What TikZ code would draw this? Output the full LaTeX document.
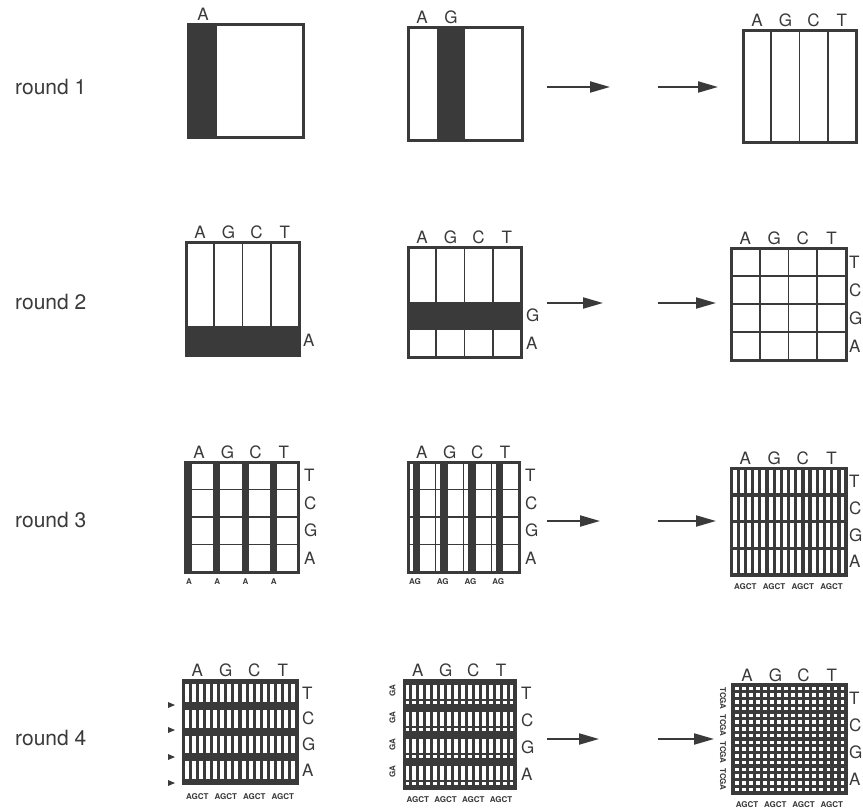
\documentclass[tikz,border=0pt]{standalone}
\usepackage{fontspec}
\setmainfont{TeX Gyre Heros}
\usetikzlibrary{arrows.meta}
\definecolor{Ink}{RGB}{58,58,58}

% letters over the lanes, beside the rows and under the lanes
\newcommand{\lanehead}[4]{% prefix, left x, width, top y
  \foreach \l [count=\i] in {A,G,C,T}
    \node[letter, anchor=base] (#1-\l) at ({#2+(\i-0.5)*#3/4},{#4-4}) {\l};}
\newcommand{\rowhead}[4]{% prefix, x, top y, height
  \foreach \l [count=\i] in {T,C,G,A}
    \node[letter, anchor=west] (#1-\l) at (#2,{#3+(\i-0.5)*#4/4}) {\l};}
\newcommand{\lanefoot}[4]{% prefix, left x, width, y
  \foreach \i in {1,...,4}
    \node[small letter] (#1-\i) at ({#2+(\i-0.5)*#3/4},#4) {AGCT};}

\begin{document}
\begin{tikzpicture}[x=1pt, y=-1pt,
    frame/.style={draw=Ink, line width=3pt},
    rule/.style={draw=Ink, line width=1.8pt},
    ink/.style={fill=Ink},
    blank/.style={fill=white},
    letter/.style={font=\fontsize{17}{17}\selectfont, text=Ink, inner sep=0pt},
    small letter/.style={font=\bfseries\fontsize{8}{8}\selectfont, text=Ink, inner sep=0pt},
    round label/.style={font=\fontsize{21}{21}\selectfont, text=Ink, anchor=west, inner sep=0pt},
    flow/.style={draw=Ink, line width=2pt, -{Triangle[length=20pt, width=11pt]}}
  ]
  \useasboundingbox[fill=white] (0,0) rectangle (863,808);

  % round labels
  \foreach \r/\y in {1/87, 2/302, 3/520, 4/738}
    \node[round label] (round\r) at (15,\y) {round \r};

  % arrows between the boxes
  \foreach \r/\y/\e/\f in {1/87/610/718, 2/303/603/716, 3/521/600/716, 4/739/599/714} {
    \coordinate (r\r-s1) at (547,\y);
    \coordinate (r\r-e1) at (\e,\y);
    \coordinate (r\r-s2) at (658,\y);
    \coordinate (r\r-e2) at (\f,\y);
    \draw[flow] (r\r-s1) -- (r\r-e1);
    \draw[flow] (r\r-s2) -- (r\r-e2);
  }

  %%% round 1
  \fill[ink] (188,25) rectangle (217,137);
  \draw[frame] (188,25) rectangle (303,137);
  \node[letter, anchor=base] (r1a-A) at (203,21) {A};

  \fill[ink] (436.5,28) rectangle (465,140);
  \draw[frame] (408,28) rectangle (522,140);
  \node[letter, anchor=base] (r1b-A) at (422,24) {A};
  \node[letter, anchor=base] (r1b-G) at (451,24) {G};

  \foreach \k in {1,2,3}
    \draw[rule] ({743+\k*28.25},31) -- ++(0,111);
  \draw[frame] (743,31) rectangle (856,142);
  \lanehead{r1c}{743}{113}{31}

  %%% round 2
  \fill[ink] (186,326) rectangle (299,355);
  \foreach \k in {1,2,3}
    \draw[rule] ({186+\k*28.25},242) -- ++(0,84);
  \draw[frame] (186,242) rectangle (299,355);
  \lanehead{r2a}{186}{113}{242}
  \node[letter, anchor=west] (r2a-rA) at (303,340.5) {A};

  \foreach \k in {1,2,3}
    \draw[rule] ({408+\k*28.25},247) -- ++(0,110);
  \fill[ink] (408,302) rectangle (521,329.5);
  \draw[rule] (408,329.5) -- (521,329.5);
  \draw[frame] (408,247) rectangle (521,357);
  \lanehead{r2b}{408}{113}{247}
  \node[letter, anchor=west] (r2b-rG) at (526,315.75) {G};
  \node[letter, anchor=west] (r2b-rA) at (526,343.25) {A};

  \foreach \k in {1,2,3} {
    \draw[rule] ({731+\k*28.75},248) -- ++(0,112);
    \draw[rule] (731,{248+\k*28}) -- ++(115,0);
  }
  \draw[frame] (731,248) rectangle (846,360);
  \lanehead{r2c}{731}{115}{248}
  \rowhead{r2c-r}{849}{248}{112}

  %%% round 3
  \foreach \k in {0,...,3}
    \fill[ink] ({185+\k*28.25},462) rectangle ++(7,110);
  \foreach \k in {1,2,3}
    \draw[rule] (185,{462+\k*27.5}) -- ++(113,0);
  \draw[frame] (185,462) rectangle (298,572);
  \lanehead{r3a}{185}{113}{462}
  \rowhead{r3a-r}{304}{462}{110}
  \foreach \k in {0,...,3}
    \node[small letter] (r3a-f\k) at ({189+\k*28.25},582) {A};

  \foreach \k in {0,...,3}
    \fill[ink] ({408+\k*27.75+4.5},462) rectangle ++(7.5,110);
  \foreach \k in {1,2,3} {
    \draw[draw=Ink, line width=1.4pt] ({408+\k*27.75},462) -- ++(0,110);
    \draw[rule] (408,{462+\k*27.5}) -- ++(111,0);
  }
  \draw[frame] (408,462) rectangle (519,572);
  \lanehead{r3b}{408}{111}{462}
  \rowhead{r3b-r}{525}{462}{110}
  \foreach \k in {0,...,3}
    \node[small letter] (r3b-f\k) at ({415+\k*27.75},582) {AG};

  \fill[ink] (731,468) rectangle (846,575);
  \foreach \c in {0,...,15}
    \foreach \r in {0,...,3}
      \fill[blank] ({731+\c*7.1875+1.7},{468+\r*26.75+1.8}) rectangle ++(3.9,23.3);
  \draw[frame] (731,468) rectangle (846,575);
  \lanehead{r3c}{731}{115}{468}
  \rowhead{r3c-r}{849}{468}{107}
  \lanefoot{r3c-f}{731}{115}{587}

  %%% round 4
  \fill[ink] (183,680) rectangle (297,783);
  \foreach \c in {0,...,15}
    \foreach \r in {0,...,3}
      \fill[blank] ({183+\c*7.125+1.6},{680+\r*25.75+4}) rectangle ++(4,17.75);
  \draw[frame] (183,680) rectangle (297,783);
  \foreach \y in {705,730,757,783}
    \fill[ink] (168,{\y-3}) -- (175,\y) -- (168,{\y+3}) -- cycle;
  \lanehead{r4a}{183}{114}{680}
  \rowhead{r4a-r}{302}{680}{103}
  \lanefoot{r4a-f}{183}{114}{797}

  \fill[ink] (404,680) rectangle (515,788);
  \foreach \c in {0,...,15}
    \foreach \r in {0,...,3} {
      \fill[blank] ({404+\c*6.9375+1.5},{680+\r*27+5}) rectangle ++(3.9,14);
      \fill[blank] ({404+\c*6.9375+1.5},{680+\r*27+21}) rectangle ++(3.9,2.5);
    }
  \draw[frame] (404,680) rectangle (515,788);
  \foreach \r in {0,...,3}
    \node[small letter, rotate=90] (r4b-g\r) at (392.5,{680+\r*27+11}) {GA};
  \lanehead{r4b}{404}{111}{680}
  \rowhead{r4b-r}{521}{680}{108}
  \lanefoot{r4b-f}{404}{111}{800}

  \fill[ink] (733,685) rectangle (846,793);
  \foreach \c in {0,...,15}
    \foreach \r in {0,...,15}
      \fill[blank] ({733+\c*7.0625+1.7},{685+\r*6.75+1.6}) rectangle ++(3.8,3.6);
  \draw[frame, line width=4pt] (733,685) rectangle (846,793);
  \foreach \r in {0,...,3}
    \node[small letter, rotate=-90] (r4c-g\r) at (723,{685+(\r+0.5)*27}) {TCGA};
  \lanehead{r4c}{733}{113}{685}
  \rowhead{r4c-r}{849}{685}{108}
  \lanefoot{r4c-f}{733}{113}{805}
\end{tikzpicture}
\end{document}
